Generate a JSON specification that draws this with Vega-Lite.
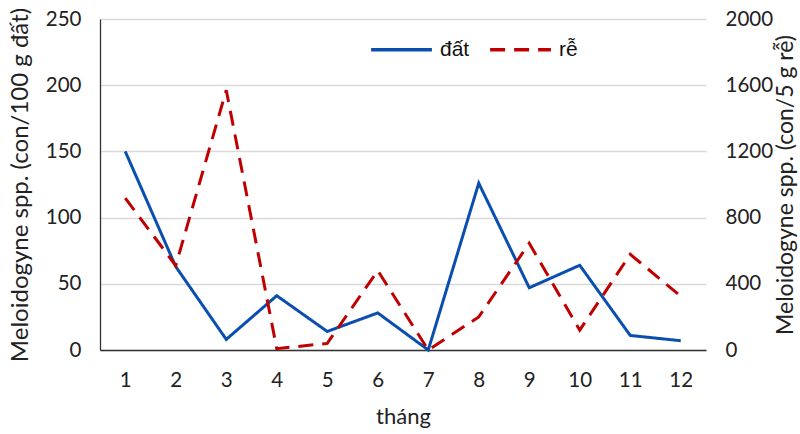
{
  "$schema": "https://vega.github.io/schema/vega-lite/v6.json",
  "autosize": "none",
  "width": 606,
  "height": 331,
  "padding": {"left": 100, "top": 19, "right": 94, "bottom": 84},
  "background": "white",
  "config": {
    "view": {"stroke": null},
    "font": "Lato",
    "axis": {"labelFont": "Lato", "titleFont": "Lato", "labelColor": "#222", "titleColor": "#222", "labelFontSize": 20.5, "titleFontSize": 23, "titleFontWeight": "normal", "ticks": false}
  },
  "data": {
    "values": [
      {"thang": 1, "loai": "đất", "value": 150},
      {"thang": 2, "loai": "đất", "value": 63},
      {"thang": 3, "loai": "đất", "value": 8},
      {"thang": 4, "loai": "đất", "value": 41},
      {"thang": 5, "loai": "đất", "value": 14},
      {"thang": 6, "loai": "đất", "value": 28},
      {"thang": 7, "loai": "đất", "value": 0},
      {"thang": 8, "loai": "đất", "value": 126},
      {"thang": 9, "loai": "đất", "value": 47},
      {"thang": 10, "loai": "đất", "value": 64},
      {"thang": 11, "loai": "đất", "value": 11},
      {"thang": 12, "loai": "đất", "value": 7},
      {"thang": 1, "loai": "rễ", "value": 918},
      {"thang": 2, "loai": "rễ", "value": 510},
      {"thang": 3, "loai": "rễ", "value": 1570},
      {"thang": 4, "loai": "rễ", "value": 8},
      {"thang": 5, "loai": "rễ", "value": 40},
      {"thang": 6, "loai": "rễ", "value": 480},
      {"thang": 7, "loai": "rễ", "value": 0},
      {"thang": 8, "loai": "rễ", "value": 200},
      {"thang": 9, "loai": "rễ", "value": 645},
      {"thang": 10, "loai": "rễ", "value": 120},
      {"thang": 11, "loai": "rễ", "value": 578},
      {"thang": 12, "loai": "rễ", "value": 325}
    ]
  },
  "encoding": {
    "x": {
      "field": "thang", "type": "ordinal", "title": "tháng",
      "scale": {"type": "point", "padding": 0.5},
      "axis": {"labelAngle": 0, "labelPadding": 20, "titlePadding": 16, "titleFontSize": 22, "domainColor": "#333", "domainWidth": 1.3, "grid": false}
    },
    "color": {
      "field": "loai", "type": "nominal",
      "scale": {"domain": ["đất", "rễ"], "range": ["#0A4FB0", "#C00000"]},
      "legend": {
        "title": null, "orient": "none", "direction": "horizontal",
        "legendX": 269, "legendY": -2,
        "symbolType": "stroke", "symbolSize": 3700, "symbolStrokeWidth": 3.5,
        "labelFont": "Liberation Sans", "labelFontSize": 21, "labelColor": "#111",
        "columnPadding": 13, "labelOffset": 6
      }
    },
    "strokeDash": {
      "field": "loai", "type": "nominal",
      "scale": {"domain": ["đất", "rễ"], "range": [[1, 0], [15, 9]]},
      "legend": {
        "title": null, "orient": "none", "direction": "horizontal",
        "legendX": 269, "legendY": -2,
        "symbolType": "stroke", "symbolSize": 3700, "symbolStrokeWidth": 3.5,
        "labelFont": "Liberation Sans", "labelFontSize": 21, "labelColor": "#111",
        "columnPadding": 13, "labelOffset": 6
      }
    }
  },
  "layer": [
    {
      "transform": [{"filter": "datum.loai === 'đất'"}],
      "mark": {"type": "line", "strokeWidth": 3},
      "encoding": {
        "y": {
          "field": "value", "type": "quantitative",
          "title": "Meloidogyne spp. (con/100 g đất)",
          "scale": {"domain": [0, 250], "nice": false},
          "axis": {"values": [0, 50, 100, 150, 200, 250], "format": "d", "grid": true, "gridColor": "#d9d9d9", "gridWidth": 1.3, "domainColor": "#333", "domainWidth": 1.3, "labelPadding": 19, "titlePadding": 13, "titleFontSize": 24}
        }
      }
    },
    {
      "transform": [{"filter": "datum.loai === 'rễ'"}],
      "mark": {"type": "line", "strokeWidth": 3},
      "encoding": {
        "y": {
          "field": "value", "type": "quantitative",
          "title": "Meloidogyne spp. (con/5 g rễ)",
          "scale": {"domain": [0, 2000], "nice": false},
          "axis": {"orient": "right", "values": [0, 400, 800, 1200, 1600, 2000], "format": "d", "grid": false, "domain": false, "labelPadding": 19, "titlePadding": 25, "titleAngle": 270}
        }
      }
    }
  ],
  "resolve": {"scale": {"y": "independent"}}
}
